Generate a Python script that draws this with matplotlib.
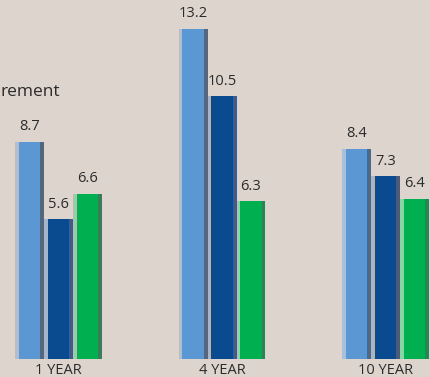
import matplotlib
matplotlib.use("Agg")
import matplotlib.pyplot as plt
import numpy as np

# Data
periods = ["1 YEAR", "4 YEAR", "10 YEAR"]
series_a = [8.7, 13.2, 8.4]   # light blue
series_b = [5.6, 10.5, 7.3]   # dark blue
series_c = [6.6, 6.3, 6.4]    # green
heading = "rement"

colors_main = ["#5b97d3", "#0a4a8f", "#00b050"]
colors_left = ["#a9c0da", "#a3b6cc", "#86d6a6"]
colors_right = ["#55677d", "#4a5a78", "#3a7c5a"]

BG = "#ddd5cd"
TEXT = "#2b2b2b"

plt.rcParams["font.family"] = ["Open Sans", "DejaVu Sans"]

fig = plt.figure(figsize=(4.31, 3.77), dpi=100, facecolor=BG)
ax = fig.add_axes([0, 0, 1, 1])
ax.set_facecolor(BG)

x = np.arange(len(periods))
w = 0.177
strip = 0.022
offsets = [-w, 0.0, w]
all_series = [series_a, series_b, series_c]

for s, vals in enumerate(all_series):
    xs = x + offsets[s]
    ax.bar(xs, vals, width=w, color=colors_main[s], linewidth=0, zorder=2)
    # left highlight and right shade strips for a bevelled look
    ax.bar(xs - w / 2 + strip / 2, vals, width=strip, color=colors_left[s],
           linewidth=0, zorder=3)
    ax.bar(xs + w / 2 - strip / 2, vals, width=strip, color=colors_right[s],
           linewidth=0, zorder=3)
    for xi, v in zip(xs, vals):
        ax.text(xi, v + 0.3, f"{v:.1f}", ha="center", va="bottom",
                fontsize=10.5, color=TEXT, zorder=4)

for xi, lab in zip(x, periods):
    ax.text(xi, -0.15, lab, ha="center", va="top", fontsize=10.5, color=TEXT)

ax.text(-0.358, 10.5, heading, ha="left", va="baseline", fontsize=12.5,
        color=TEXT)

ax.set_xlim(-0.358, 2.278)
ax.set_ylim(-0.72, 14.36)
ax.axis("off")

fig.savefig("out.png", dpi=100, facecolor=BG)
